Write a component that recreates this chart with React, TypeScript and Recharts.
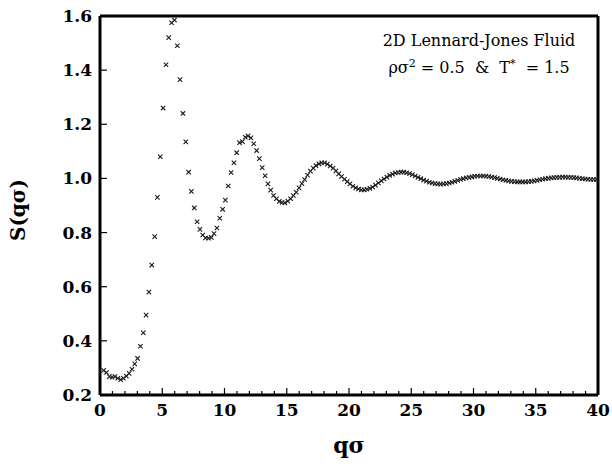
import React from 'react'
import { ScatterChart, Scatter, XAxis, YAxis } from 'recharts'

// q*sigma grid of the simulation
const qSigma = [
    0.29, 0.52, 0.75, 0.97, 1.20, 1.43, 1.66, 1.88, 2.11, 2.34,
    2.57, 2.79, 3.02, 3.25, 3.48, 3.70, 3.93, 4.16, 4.39, 4.61,
    4.84, 5.07, 5.30, 5.52, 5.75, 5.98, 6.21, 6.43, 6.66, 6.89,
    7.12, 7.34, 7.57, 7.80, 8.03, 8.25, 8.48, 8.71, 8.94, 9.16,
    9.39, 9.62, 9.85, 10.07, 10.30, 10.53, 10.76, 10.98, 11.21, 11.44,
    11.67, 11.89, 12.12, 12.35, 12.58, 12.80, 13.03, 13.26, 13.49, 13.71,
    13.94, 14.17, 14.40, 14.62, 14.85, 15.08, 15.31, 15.53, 15.76, 15.99,
    16.22, 16.44, 16.67, 16.90, 17.13, 17.35, 17.58, 17.81, 18.04, 18.26,
    18.49, 18.72, 18.95, 19.17, 19.40, 19.63, 19.86, 20.08, 20.31, 20.54,
    20.77, 20.99, 21.22, 21.45, 21.68, 21.90, 22.13, 22.36, 22.59, 22.81,
    23.04, 23.27, 23.50, 23.72, 23.95, 24.18, 24.41, 24.63, 24.86, 25.09,
    25.32, 25.54, 25.77, 26.00, 26.23, 26.45, 26.68, 26.91, 27.14, 27.36,
    27.59, 27.82, 28.05, 28.27, 28.50, 28.73, 28.96, 29.18, 29.41, 29.64,
    29.87, 30.09, 30.32, 30.55, 30.78, 31.00, 31.23, 31.46, 31.69, 31.91,
    32.14, 32.37, 32.60, 32.82, 33.05, 33.28, 33.51, 33.73, 33.96, 34.19,
    34.42, 34.64, 34.87, 35.10, 35.33, 35.55, 35.78, 36.01, 36.24, 36.46,
    36.69, 36.92, 37.15, 37.37, 37.60, 37.83, 38.06, 38.28, 38.51, 38.74,
    38.97, 39.19, 39.42, 39.65, 39.88,
]

// structure factor S(q sigma)
const structureFactor = [
    0.291, 0.283, 0.268, 0.266, 0.268, 0.262, 0.257, 0.262, 0.270, 0.280,
    0.295, 0.315, 0.335, 0.380, 0.430, 0.495, 0.580, 0.680, 0.785, 0.930,
    1.080, 1.260, 1.420, 1.520, 1.575, 1.585, 1.490, 1.365, 1.240, 1.135,
    1.023, 0.952, 0.891, 0.840, 0.812, 0.791, 0.780, 0.779, 0.782, 0.796,
    0.817, 0.853, 0.886, 0.920, 0.972, 1.022, 1.058, 1.095, 1.132, 1.136,
    1.152, 1.157, 1.150, 1.128, 1.103, 1.073, 1.040, 1.010, 0.980, 0.957,
    0.937, 0.925, 0.915, 0.911, 0.910, 0.916, 0.925, 0.937, 0.949, 0.965,
    0.981, 0.996, 1.012, 1.027, 1.038, 1.047, 1.054, 1.058, 1.058, 1.053,
    1.046, 1.038, 1.028, 1.017, 1.007, 0.997, 0.988, 0.980, 0.971, 0.965,
    0.961, 0.958, 0.958, 0.960, 0.963, 0.968, 0.975, 0.983, 0.991, 0.998,
    1.005, 1.011, 1.016, 1.020, 1.022, 1.023, 1.023, 1.021, 1.018, 1.014,
    1.009, 1.004, 0.999, 0.994, 0.990, 0.986, 0.983, 0.981, 0.980, 0.979,
    0.980, 0.981, 0.983, 0.986, 0.989, 0.993, 0.996, 0.999, 1.002, 1.004,
    1.006, 1.008, 1.009, 1.009, 1.009, 1.008, 1.007, 1.005, 1.003, 1.000,
    0.998, 0.995, 0.993, 0.991, 0.989, 0.988, 0.987, 0.987, 0.987, 0.987,
    0.988, 0.989, 0.991, 0.993, 0.995, 0.997, 0.999, 1.000, 1.002, 1.003,
    1.004, 1.004, 1.005, 1.005, 1.004, 1.004, 1.003, 1.002, 1.000, 0.999,
    0.998, 0.997, 0.996, 0.996, 0.996,
]

const xTicks = [0, 1, 2, 3, 4, 5, 6, 7, 8, 9, 10, 11, 12, 13, 14, 15, 16, 17, 18, 19, 20,
    21, 22, 23, 24, 25, 26, 27, 28, 29, 30, 31, 32, 33, 34, 35, 36, 37, 38, 39, 40]
const yTicks = [0.2, 0.4, 0.6, 0.8, 1.0, 1.2, 1.4, 1.6]

const FONT = '"DejaVu Serif", serif'

const points = qSigma.map((q, i) => ({ q, s: structureFactor[i] }))

// little "x" marker
const Cross = (props: any) => {
    const { cx, cy } = props
    const r = 2.2
    return (
        <path
            d={`M${cx - r},${cy - r}L${cx + r},${cy + r}M${cx - r},${cy + r}L${cx + r},${cy - r}`}
            stroke="#1a1a1a"
            strokeWidth={1.1}
            fill="none"
        />
    )
}

// bottom ticks: long at multiples of 5 with a label, short otherwise
const BottomTick = (props: any) => {
    const { x, y, payload } = props
    const v = payload.value
    const major = v % 5 === 0
    const base = y - 8
    return (
        <g>
            <line x1={x} x2={x} y1={base} y2={base - (major ? 7 : 4)} stroke="#000" strokeWidth={1.2} />
            {major && (
                <text x={x} y={y + 13} textAnchor="middle" fontFamily={FONT} fontWeight="bold" fontSize={17} fill="#000">
                    {v}
                </text>
            )}
        </g>
    )
}

const TopTick = (props: any) => {
    const { x, y, payload } = props
    const major = payload.value % 5 === 0
    return <line x1={x} x2={x} y1={y} y2={y + (major ? 7 : 4)} stroke="#000" strokeWidth={1.2} />
}

const NoLabel = () => null

export default function App() {
    return (
        <div style={{ position: 'absolute', left: 0, top: 0, width: 612, height: 468, background: '#fff' }}>
            <ScatterChart width={612} height={468} margin={{ top: 0, right: 0, bottom: 0, left: 0 }}>
                <XAxis
                    xAxisId="bottom"
                    type="number"
                    dataKey="q"
                    domain={[0, 40]}
                    ticks={xTicks}
                    interval={0}
                    height={73}
                    tickSize={0}
                    tickMargin={8}
                    tickLine={false}
                    tick={BottomTick}
                    axisLine={{ stroke: '#000', strokeWidth: 3 }}
                />
                <XAxis
                    xAxisId="top"
                    orientation="top"
                    type="number"
                    domain={[0, 40]}
                    ticks={xTicks}
                    interval={0}
                    height={16}
                    tickSize={0}
                    tickMargin={0}
                    tickLine={false}
                    tick={TopTick}
                    axisLine={{ stroke: '#000', strokeWidth: 3 }}
                />
                <YAxis
                    yAxisId="left"
                    type="number"
                    dataKey="s"
                    domain={[0.2, 1.6]}
                    ticks={yTicks}
                    interval={0}
                    width={100}
                    tickSize={-7}
                    tickMargin={15}
                    tickLine={{ stroke: '#000', strokeWidth: 1.2 }}
                    axisLine={{ stroke: '#000', strokeWidth: 3 }}
                    tickFormatter={(v: number) => v.toFixed(1)}
                    tick={{ fontFamily: FONT, fontWeight: 'bold', fontSize: 17, fill: '#000' }}
                />
                <YAxis
                    yAxisId="right"
                    orientation="right"
                    type="number"
                    domain={[0.2, 1.6]}
                    ticks={yTicks}
                    interval={0}
                    width={14}
                    tickSize={-7}
                    tickLine={{ stroke: '#000', strokeWidth: 1.2 }}
                    tick={NoLabel}
                    axisLine={{ stroke: '#000', strokeWidth: 3 }}
                />
                <Scatter
                    xAxisId="bottom"
                    yAxisId="left"
                    data={points}
                    shape={Cross}
                    isAnimationActive={false}
                />
            </ScatterChart>
            <svg width={612} height={468} style={{ position: 'absolute', left: 0, top: 0, pointerEvents: 'none' }}>
                <text x={479} y={46} textAnchor="middle" fontFamily={FONT} fontSize={16} fill="#000">
                    2D Lennard-Jones Fluid
                </text>
                <text x={479} y={73} textAnchor="middle" fontFamily={FONT} fontSize={16} fill="#000">
                    ρσ<tspan dy={-6} fontSize={11}>2</tspan>
                    <tspan dy={6}>{'\u00a0= 0.5\u00a0\u00a0&\u00a0\u00a0T'}</tspan>
                    <tspan dy={-6} fontSize={11}>*</tspan>
                    <tspan dy={6}>{'\u00a0\u00a0= 1.5'}</tspan>
                </text>
                <text x={349} y={453} textAnchor="middle" fontFamily={FONT} fontWeight="bold" fontSize={22} fill="#000">
                    qσ
                </text>
                <text
                    x={25}
                    y={210}
                    textAnchor="middle"
                    transform="rotate(-90, 25, 210)"
                    fontFamily={FONT}
                    fontWeight="bold"
                    fontSize={20}
                    fill="#000"
                >
                    S(qσ)
                </text>
            </svg>
        </div>
    )
}
